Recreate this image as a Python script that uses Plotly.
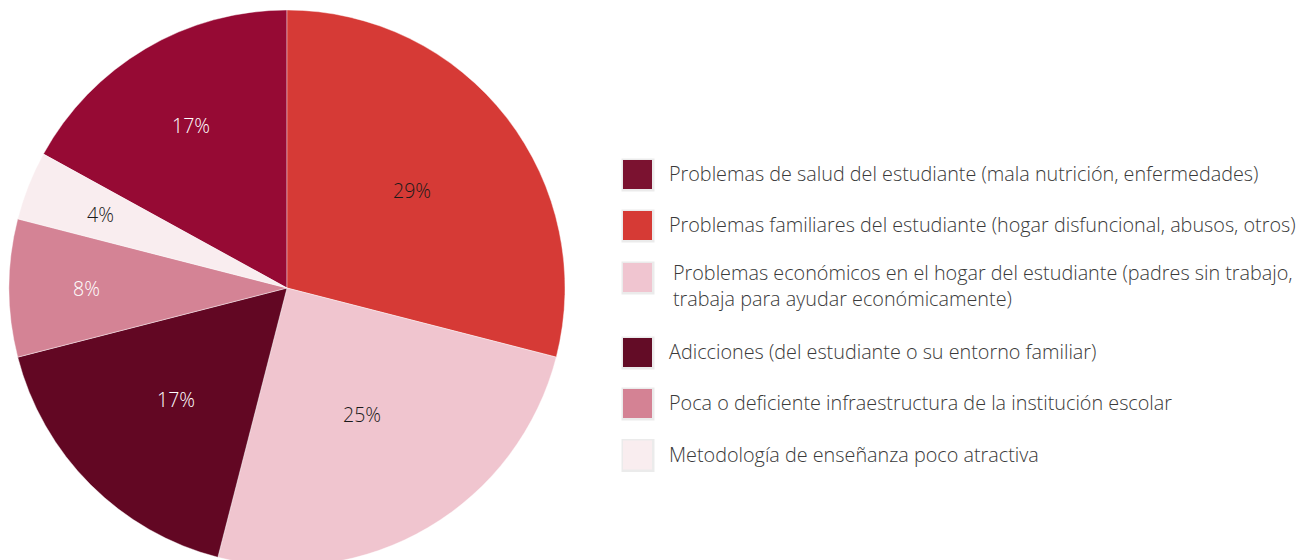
import math
import plotly.graph_objects as go

labels = [
    "Problemas de salud del estudiante (mala nutrición, enfermedades)",
    "Problemas familiares del estudiante (hogar disfuncional, abusos, otros)",
    "Problemas económicos en el hogar del estudiante (padres sin trabajo,<br>trabaja para ayudar económicamente)",
    "Adicciones (del estudiante o su entorno familiar)",
    "Poca o deficiente infraestructura de la institución escolar",
    "Metodología de enseñanza poco atractiva",
]
values = [17, 29, 25, 17, 8, 4]
slice_colors = ["#960A34", "#D63A36", "#F0C5CF", "#620723", "#D48395", "#F9EDEF"]
legend_colors = ["#7B1230", "#D63A35", "#F0C5D0", "#630C26", "#D48294", "#F9EDEF"]
text_colors = ["#FFFFFF", "#1A1A1A", "#1A1A1A", "#FFFFFF", "#FFFFFF", "#1A1A1A"]
# radial position of percentage labels (fraction of radius)
label_radius = [0.68, 0.57, 0.53, 0.565, 0.72, 0.72]

W, H = 1308, 570
TOP, BOT = 10, 4
R = (H - TOP - BOT) / 2
CX = 287
CY = TOP + R
PH = H - TOP - BOT


def px(x):
    return x / W


def py(y):
    return 1 - (y - TOP) / PH


total = sum(values)
start = -values[0] / total * 360.0

fig = go.Figure()
fig.add_trace(go.Pie(
    labels=[l.replace("<br>", " ") for l in labels],
    values=values,
    sort=False,
    direction="clockwise",
    rotation=start,
    marker=dict(colors=slice_colors, line=dict(color="rgba(255,255,255,0.6)", width=0.7)),
    textinfo="none",
    domain=dict(x=[(CX - R) / W, (CX + R) / W], y=[0, 1]),
    showlegend=False,
    hoverinfo="label+percent",
))

annotations = []
cum = start
for v, col, f in zip(values, text_colors, label_radius):
    mid = math.radians(cum + v / total * 180.0)
    cum += v / total * 360.0
    x = CX + f * R * math.sin(mid)
    y = CY - f * R * math.cos(mid)
    annotations.append(dict(text=f"{round(v / total * 100)}%", xref="paper", yref="paper",
                            x=px(x), y=py(y), xanchor="center", yanchor="middle",
                            showarrow=False,
                            font=dict(family="Open Sans", size=19.5, color=col, weight=300)))

# manual legend
row_y = [174.5, 225.5, 277.5, 352.5, 403.5, 455]
sq_x0, sq = 623, 29
shapes = []
for i, (lab, col) in enumerate(zip(labels, legend_colors)):
    yc = row_y[i]
    shapes.append(dict(type="rect", xref="paper", yref="paper",
                       x0=px(sq_x0 - 1.5), x1=px(sq_x0 + sq + 2.5),
                       y0=py(yc + sq / 2 + 2.5), y1=py(yc - sq / 2 - 1.5),
                       fillcolor="rgba(0,0,0,0.08)", line=dict(width=0), layer="below"))
    shapes.append(dict(type="rect", xref="paper", yref="paper",
                       x0=px(sq_x0), x1=px(sq_x0 + sq),
                       y0=py(yc + sq / 2), y1=py(yc - sq / 2),
                       fillcolor=col, line=dict(width=0)))
    two = "<br>" in lab
    tx = 671 if two else 667
    ty = yc + 8 if two else yc - 1
    annotations.append(dict(text=lab, xref="paper", yref="paper",
                            x=px(tx), y=py(ty), xanchor="left", yanchor="middle",
                            align="left", showarrow=False,
                            font=dict(family="Open Sans", size=19.8, color="#3A3A3A", weight=300)))

fig.update_layout(
    width=W, height=H,
    margin=dict(l=0, r=0, t=TOP, b=BOT),
    paper_bgcolor="white", plot_bgcolor="white",
    shapes=shapes, annotations=annotations,
)
fig.write_html("out.html", config={"displayModeBar": False},
               post_script="document.body.style.margin='0';document.body.style.overflow='hidden';")
